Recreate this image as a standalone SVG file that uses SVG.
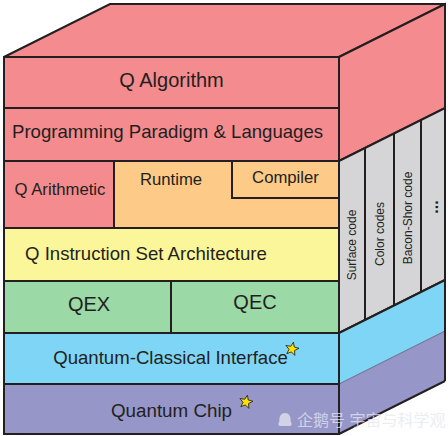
<svg xmlns="http://www.w3.org/2000/svg" width="448" height="436" viewBox="0 0 448 436">
<defs>
<style>
.s{stroke:#231f20;stroke-width:2;stroke-linejoin:miter}
.pk{fill:#f48b8f}.or{fill:#fdca88}.ye{fill:#fbf69a}.gr{fill:#9bd9a6}.bl{fill:#7fd5f5}.pu{fill:#9696c9}.gy{fill:#d5d5d7}
text{font-family:"Liberation Sans",Arial,sans-serif;fill:#231f20}
.m{text-anchor:middle}
.side{font-size:12px;text-anchor:middle}
.star{fill:#ffe100;stroke:#231f20;stroke-width:0.8}
</style>
<path id="star" d="M0,-7 L1.76,-2.43 L6.66,-2.16 L2.85,0.93 L4.11,5.66 L0,3 L-4.11,5.66 L-2.85,0.93 L-6.66,-2.16 L-1.76,-2.43 Z"/>
</defs>
<rect width="448" height="436" fill="#ffffff"/>
<g id="cube-top">
<polygon class="pk s" points="4,57 110,4 445,4 339,57"/>
</g>
<g id="side-pink">
<polygon class="pk s" points="339,57 445,4 445,108 339,161"/>
</g>
<g id="side-codes">
<polygon class="gy s" points="339,161 445,108 445,280 339,333"/>
<line class="s" x1="365" y1="148" x2="365" y2="320"/>
<line class="s" x1="394" y1="133.5" x2="394" y2="305.5"/>
<line class="s" x1="421" y1="120" x2="421" y2="292"/>
<text class="side" transform="translate(356,245) rotate(-90)">Surface code</text>
<text class="side" transform="translate(384,234) rotate(-90)">Color codes</text>
<text class="side" transform="translate(412,218) rotate(-90)">Bacon-Shor code</text>
<text class="side" style="font-weight:bold;font-size:16px" transform="translate(438,207) rotate(-90)">...</text>
</g>
<g id="side-blue">
<polygon class="bl" points="339,333 445,280 445,331 339,384"/>
<line class="s" x1="339" y1="333" x2="445" y2="280"/>
</g>
<g id="side-purple">
<polygon class="pu" points="339,384 445,331 445,381 339,434"/>
<line x1="339" y1="384" x2="445" y2="331" stroke="#6b6b80" stroke-width="1"/>
<line class="s" x1="339" y1="434" x2="445" y2="381"/>
<line class="s" x1="445" y1="4" x2="445" y2="381"/>
</g>
<g id="q-algorithm">
<rect class="pk s" x="4" y="57" width="335" height="51"/>
<text class="m" x="171.5" y="87" font-size="20">Q Algorithm</text>
</g>
<g id="programming">
<rect class="pk s" x="4" y="108" width="335" height="53"/>
<text x="12" y="138" font-size="18.6">Programming Paradigm &amp; Languages</text>
</g>
<g id="q-arithmetic">
<rect class="pk s" x="4" y="161" width="110" height="67"/>
<text class="m" x="60" y="195" font-size="16.7">Q Arithmetic</text>
</g>
<g id="runtime">
<rect class="or s" x="114" y="161" width="225" height="67"/>
<text class="m" x="171" y="185" font-size="16.7">Runtime</text>
</g>
<g id="compiler">
<rect class="or s" x="232" y="161" width="107" height="37"/>
<text class="m" x="285.5" y="183" font-size="16.7">Compiler</text>
</g>
<g id="qisa">
<rect class="ye s" x="4" y="228" width="335" height="53"/>
<text x="25" y="260" font-size="18.6">Q Instruction Set Architecture</text>
</g>
<g id="qex">
<rect class="gr s" x="4" y="281" width="167" height="52"/>
<text class="m" x="89" y="311" font-size="20">QEX</text>
</g>
<g id="qec">
<rect class="gr s" x="171" y="281" width="168" height="52"/>
<text class="m" x="255" y="309" font-size="20">QEC</text>
</g>
<g id="qci">
<rect class="bl s" x="4" y="333" width="335" height="51"/>
<text class="m" x="170.5" y="364" font-size="18.6">Quantum-Classical Interface</text>
<use href="#star" class="star" transform="translate(292,349) rotate(12)"/>
</g>
<g id="quantum-chip">
<rect class="pu s" x="4" y="384" width="335" height="50"/>
<text class="m" x="171.5" y="417" font-size="18.8">Quantum Chip</text>
<use href="#star" class="star" transform="translate(246,402) rotate(12)"/>
</g>
<g id="watermark" opacity="0.75">
<path d="M285,413 C280,413 279,418 279.5,421 C278,423 278,426 280,426 L290,426 C292,426 292,423 290.5,421 C291,418 290,413 285,413 Z" fill="#e6e6f0"/>
<text x="297" y="426" font-size="16" style="font-family:'Liberation Sans','Noto Sans CJK SC',sans-serif;fill:#e6e6f0">企鹅号 宇宙与科学观</text>
</g>
</svg>
